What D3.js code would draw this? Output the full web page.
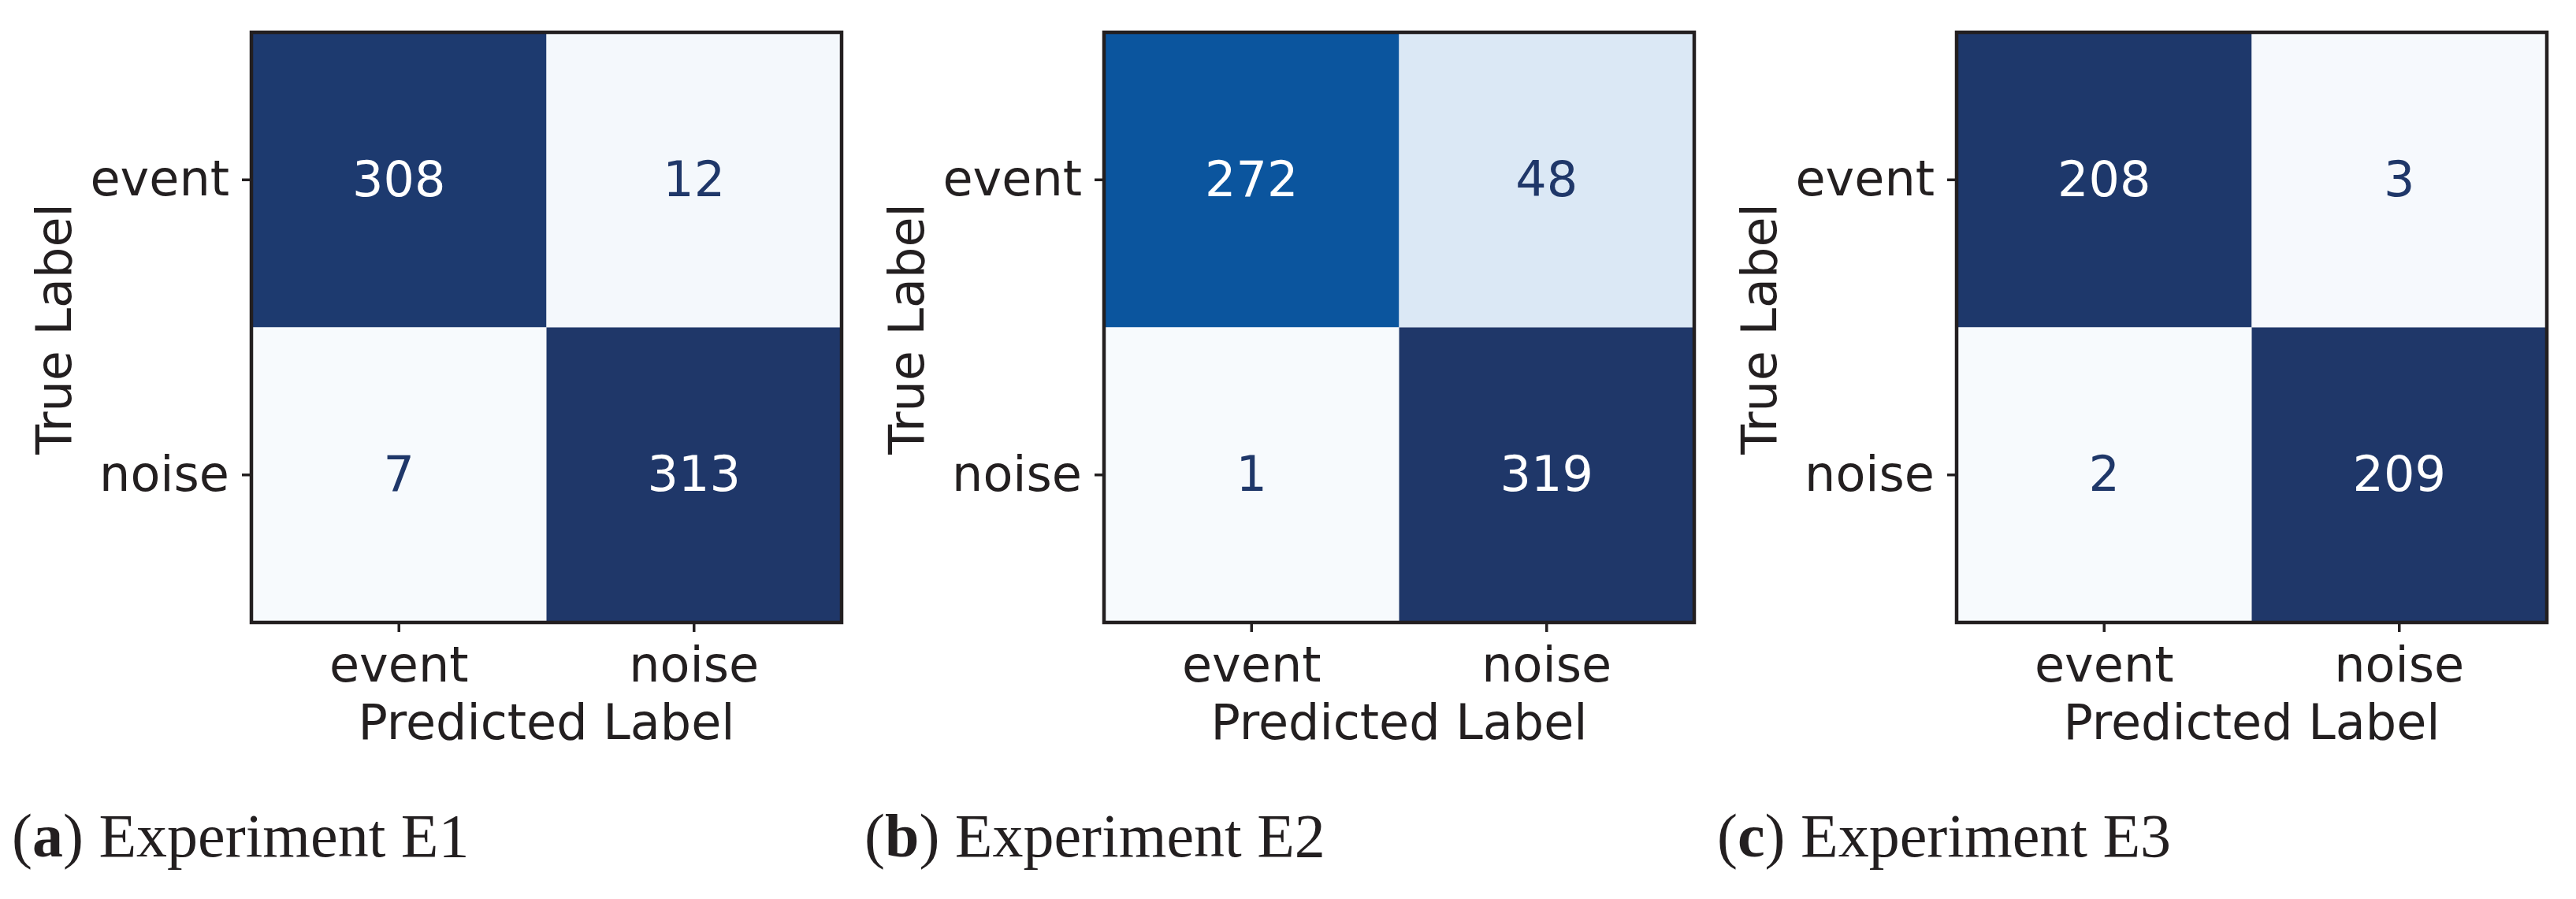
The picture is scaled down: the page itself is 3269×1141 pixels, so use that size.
<!DOCTYPE html>
<html>
<head>
<meta charset="utf-8">
<script src="https://cdn.jsdelivr.net/npm/d3@7"></script>
<style>
  body { margin: 0; background: #fff; }
  svg { display: block; }
</style>
</head>
<body>
<div id="chart"></div>
<script>
// class labels shared by both axes
const labels = ["event", "noise"];
const experiments = ["E1", "E2", "E3"];
const captionLetters = ["a", "b", "c"];

// confusion matrices, rows = true label, columns = predicted label
const matrixE1 = [[308, 12], [7, 313]];
const matrixE2 = [[272, 48], [1, 319]];
const matrixE3 = [[208, 3], [2, 209]];
const matrices = [matrixE1, matrixE2, matrixE3];

const width = 3269, height = 1141;
const size = 749;
const panelLeft = [319, 1401, 2483];
const panelTop = 41;
const ink = "#231f20";
const fontSans = "'DejaVu Sans', sans-serif";

const svg = d3.select("#chart")
    .append("svg")
    .attr("width", width)
    .attr("height", height);

// Blues-like colour map
const color = d3.scaleLinear()
    .domain([0, 0.148, 0.852, 1])
    .range(["#f7fafd", "#dbe8f5", "#0b559e", "#1f3769"])
    .interpolate(d3.interpolateRgb);

function drawMatrix(matrix, i) {
    const g = svg.append("g")
        .attr("transform", "translate(" + panelLeft[i] + "," + panelTop + ")");

    const x = d3.scaleBand().domain(labels).range([0, size]);
    const y = d3.scaleBand().domain(labels).range([0, size]);

    const cells = [];
    matrix.forEach((row, r) => row.forEach((v, c) => {
        cells.push({trueLabel: labels[r], predLabel: labels[c], value: v});
    }));
    const vMin = d3.min(cells, d => d.value);
    const vMax = d3.max(cells, d => d.value);
    const norm = d3.scaleLinear().domain([vMin, vMax]).range([0, 1]);

    // cells
    g.selectAll("rect.cell")
        .data(cells)
        .enter()
        .append("rect")
        .attr("class", "cell")
        .attr("x", d => x(d.predLabel))
        .attr("y", d => y(d.trueLabel))
        .attr("width", x.bandwidth())
        .attr("height", y.bandwidth())
        .attr("fill", d => color(norm(d.value)));

    // counts
    g.selectAll("text.count")
        .data(cells)
        .enter()
        .append("text")
        .attr("class", "count")
        .attr("x", d => x(d.predLabel) + x.bandwidth() / 2)
        .attr("y", d => y(d.trueLabel) + y.bandwidth() / 2)
        .attr("dy", "0.33em")
        .attr("text-anchor", "middle")
        .style("font-family", fontSans)
        .style("font-size", "62px")
        .attr("fill", d => norm(d.value) > 0.5 ? "#ffffff" : "#1f3769")
        .text(d => d.value);

    // frame
    g.append("rect")
        .attr("width", size)
        .attr("height", size)
        .attr("fill", "none")
        .attr("stroke", ink)
        .attr("stroke-width", 4.5);

    // X axis
    const xAxis = g.append("g")
        .attr("transform", "translate(0," + size + ")")
        .call(d3.axisBottom(x).tickSize(12).tickPadding(19));
    // Y axis
    const yAxis = g.append("g")
        .call(d3.axisLeft(y).tickSize(12).tickPadding(16));

    [xAxis, yAxis].forEach(ax => {
        ax.select(".domain").remove();
        ax.selectAll("line").attr("stroke", ink).attr("stroke-width", 3.5);
        ax.selectAll("text")
            .attr("fill", ink)
            .style("font-family", fontSans)
            .style("font-size", "62px");
    });

    // axis titles
    g.append("text")
        .attr("x", size / 2)
        .attr("y", size + 148)
        .attr("text-anchor", "middle")
        .attr("fill", ink)
        .style("font-family", fontSans)
        .style("font-size", "62px")
        .text("Predicted Label");

    g.append("text")
        .attr("transform", "translate(-229," + (size / 2 + 2) + ")rotate(-90)")
        .attr("text-anchor", "middle")
        .attr("fill", ink)
        .style("font-family", fontSans)
        .style("font-size", "62px")
        .text("True Label");

    // caption
    const cap = g.append("text")
        .attr("x", -304)
        .attr("y", 1087 - panelTop)
        .attr("fill", ink)
        .style("font-family", "'Liberation Serif', serif")
        .style("font-size", "78px");
    cap.append("tspan").text("(");
    cap.append("tspan").style("font-weight", "bold").text(captionLetters[i]);
    cap.append("tspan").text(") Experiment " + experiments[i]);
}

matrices.forEach((m, i) => drawMatrix(m, i));
</script>
</body>
</html>
